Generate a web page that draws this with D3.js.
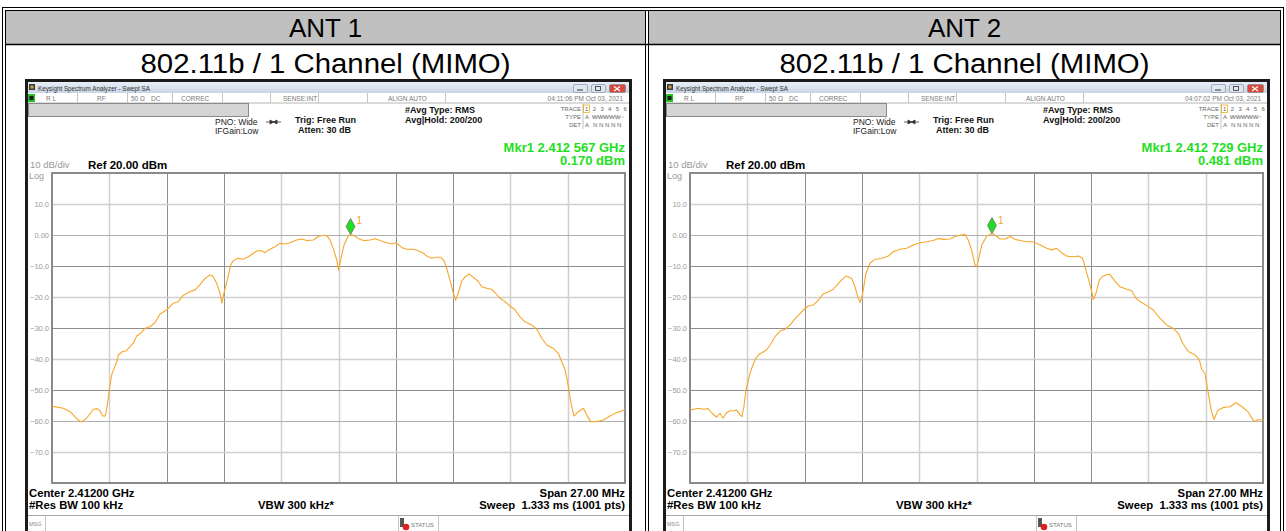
<!DOCTYPE html>
<html>
<head>
<meta charset="utf-8">
<style>
  body { margin: 0; background: #fff; }
  svg { display: block; font-family: "Liberation Sans", Arial, sans-serif; }
  .hdr { font-size: 26px; fill: #000; }
  .sub { font-size: 27px; fill: #000; }
  .st  { font-size: 6.5px; fill: #7a7a7a; }
  .inf { font-size: 8.5px; fill: #222; }
  .infb { font-size: 9px; fill: #111; font-weight: bold; }
  .tr  { font-size: 6px; fill: #666; }
  .ylab { font-size: 7.5px; fill: #9a9a9a; }
  .bot { font-size: 11.3px; font-weight: bold; fill: #000; }
  .mkr { font-size: 13px; font-weight: bold; fill: #1ee01e; }
</style>
</head>
<body>
<script src="https://d3js.org/d3.v7.min.js"></script>
<script>
// ---- data ----
const antennas   = ["ANT 1", "ANT 2"];
const modes      = ["802.11b / 1 Channel (MIMO)", "802.11b / 1 Channel (MIMO)"];
const timestamps = ["04:11:06 PM Oct 03, 2021", "04:07:02 PM Oct 03, 2021"];
const markerFreqGHz = [2.412567, 2.412729];
const markerLevel   = [0.170, 0.481];
const centerGHz = 2.412, spanMHz = 27, refLevel = 20, dbPerDiv = 10, divisions = 10;
const yTicks = [10, 0, -10, -20, -30, -40, -50, -60, -70];

// [offset from center in MHz, level in dBm]
const ant1Trace = [[-13.50,-55.2],[-12.97,-55.9],[-12.65,-57.0],[-12.26,-59.7],[-12.10,-60.3],[-11.87,-59.1],[-11.55,-56.2],[-11.37,-56.0],[-11.24,-56.7],[-11.11,-58.4],[-10.99,-58.4],[-10.89,-54.8],[-10.80,-50.0],[-10.69,-45.2],[-10.56,-42.8],[-10.42,-40.3],[-10.38,-38.7],[-10.17,-37.6],[-10.01,-37.4],[-9.82,-36.0],[-9.67,-34.9],[-9.51,-32.6],[-9.32,-31.7],[-9.12,-30.1],[-8.88,-29.6],[-8.65,-28.3],[-8.41,-25.5],[-8.10,-24.2],[-7.78,-22.0],[-7.55,-21.5],[-7.31,-19.4],[-7.00,-18.3],[-6.76,-17.7],[-6.53,-16.1],[-6.29,-14.0],[-6.06,-12.9],[-5.93,-13.2],[-5.74,-15.6],[-5.58,-18.8],[-5.50,-22.0],[-5.40,-18.8],[-5.24,-14.5],[-5.08,-9.7],[-4.96,-8.3],[-4.72,-7.5],[-4.49,-7.8],[-4.25,-7.0],[-4.01,-5.9],[-3.83,-5.1],[-3.62,-5.1],[-3.46,-5.7],[-3.23,-4.6],[-2.99,-3.8],[-2.76,-2.7],[-2.52,-2.9],[-2.29,-2.5],[-1.97,-1.6],[-1.73,-1.3],[-1.50,-1.8],[-1.19,-1.6],[-0.95,-0.5],[-0.72,-0.1],[-0.56,-0.2],[-0.40,-1.6],[-0.25,-4.3],[-0.08,-8.1],[0.00,-11.3],[0.10,-8.1],[0.26,-3.2],[0.45,-0.4],[0.57,0.17],[0.70,-0.1],[0.93,-1.1],[1.17,-1.8],[1.48,-1.6],[1.72,-1.2],[1.96,-1.8],[2.27,-2.5],[2.51,-2.9],[2.71,-2.5],[2.98,-4.0],[3.21,-4.6],[3.52,-4.6],[3.76,-5.1],[4.00,-5.9],[4.16,-6.8],[4.39,-7.5],[4.63,-7.2],[4.82,-7.2],[4.97,-8.3],[5.10,-10.8],[5.25,-14.5],[5.41,-18.8],[5.52,-21.0],[5.64,-18.8],[5.80,-15.0],[5.96,-13.5],[6.15,-12.6],[6.35,-13.6],[6.59,-15.0],[6.75,-16.7],[6.98,-17.2],[7.22,-17.5],[7.37,-18.6],[7.61,-20.4],[7.85,-21.5],[8.08,-22.9],[8.32,-24.2],[8.55,-26.4],[8.79,-28.0],[9.10,-29.0],[9.34,-30.4],[9.58,-33.3],[9.81,-35.5],[10.12,-36.6],[10.36,-38.2],[10.52,-40.9],[10.67,-43.4],[10.78,-46.8],[10.88,-51.1],[10.99,-55.4],[11.10,-58.4],[11.30,-57.0],[11.54,-55.9],[11.70,-58.1],[11.88,-60.2],[12.17,-60.2],[12.48,-59.7],[12.79,-58.4],[13.11,-57.3],[13.34,-56.8],[13.50,-56.2]];

const ant2Trace = [[-13.50,-56.5],[-13.12,-55.9],[-12.84,-56.2],[-12.65,-56.0],[-12.46,-57.5],[-12.24,-58.8],[-12.09,-57.5],[-11.94,-59.1],[-11.80,-57.5],[-11.62,-56.7],[-11.43,-56.7],[-11.30,-56.5],[-11.14,-58.1],[-11.05,-58.6],[-10.96,-55.4],[-10.86,-50.0],[-10.67,-44.6],[-10.59,-43.0],[-10.44,-40.3],[-10.28,-38.7],[-10.12,-38.0],[-9.89,-37.1],[-9.73,-35.5],[-9.49,-32.8],[-9.26,-31.0],[-9.02,-30.4],[-8.79,-29.0],[-8.47,-26.4],[-8.16,-24.2],[-7.93,-22.9],[-7.69,-22.6],[-7.45,-21.0],[-7.22,-19.0],[-6.98,-18.3],[-6.75,-17.5],[-6.51,-15.6],[-6.28,-14.0],[-6.12,-13.2],[-5.88,-14.0],[-5.73,-16.7],[-5.57,-20.4],[-5.49,-21.8],[-5.36,-18.8],[-5.21,-12.4],[-5.02,-9.1],[-4.78,-7.8],[-4.47,-7.6],[-4.16,-6.8],[-3.92,-5.4],[-3.60,-4.6],[-3.29,-4.3],[-2.98,-3.2],[-2.66,-2.5],[-2.35,-2.2],[-2.04,-1.8],[-1.80,-1.1],[-1.56,-1.4],[-1.25,-1.3],[-1.01,-0.5],[-0.70,0.1],[-0.54,0.2],[-0.39,-1.6],[-0.23,-4.8],[-0.07,-9.7],[0.01,-10.3],[0.09,-8.1],[0.25,-3.2],[0.48,-0.3],[0.73,0.48],[0.87,0.0],[1.11,-1.3],[1.34,-1.3],[1.58,-0.5],[1.81,-1.4],[2.05,-1.8],[2.37,-2.2],[2.68,-2.2],[2.99,-3.2],[3.31,-4.3],[3.54,-4.8],[3.78,-4.3],[4.01,-5.7],[4.25,-6.8],[4.56,-7.0],[4.80,-6.8],[5.00,-7.5],[5.11,-10.2],[5.27,-14.0],[5.43,-18.3],[5.50,-20.8],[5.63,-18.8],[5.79,-14.5],[5.97,-13.2],[6.26,-12.6],[6.48,-14.5],[6.76,-16.7],[7.08,-17.5],[7.31,-18.0],[7.52,-20.4],[7.78,-21.8],[8.10,-23.1],[8.33,-24.2],[8.65,-26.9],[8.96,-29.0],[9.27,-30.1],[9.51,-31.7],[9.72,-34.9],[9.98,-37.6],[10.30,-38.7],[10.50,-40.3],[10.61,-43.3],[10.76,-44.6],[10.91,-50.5],[11.06,-56.5],[11.19,-59.5],[11.38,-56.5],[11.66,-55.6],[11.94,-55.4],[12.23,-54.1],[12.51,-55.4],[12.79,-57.0],[13.08,-60.2],[13.26,-59.5],[13.45,-59.7],[13.50,-59.5]];

const traces = [ant1Trace, ant2Trace];

// ---- page ----
const W = 1286, H = 531;
const svg = d3.select("body").append("svg").attr("width", W).attr("height", H);

const defs = svg.append("defs");
const tg = defs.append("linearGradient").attr("id", "titlebar").attr("x1", 0).attr("x2", 0).attr("y1", 0).attr("y2", 1);
tg.append("stop").attr("offset", "0%").attr("stop-color", "#e9eff7");
tg.append("stop").attr("offset", "100%").attr("stop-color", "#c9d5e4");

// table: header cells, borders
const cells = [[6, 645], [649, 1280]];
cells.forEach(([a, b], i) => {
  svg.append("rect").attr("x", a).attr("y", 11).attr("width", b - a).attr("height", 33).attr("fill", "#c0c0c0");
  svg.append("text").attr("class", "hdr").attr("x", (a + b) / 2).attr("y", 37)
    .attr("text-anchor", "middle").text(antennas[i]);
  svg.append("text").attr("class", "sub").attr("x", (a + b) / 2 - 185).attr("y", 72.5)
    .attr("textLength", 370).attr("lengthAdjust", "spacingAndGlyphs").text(modes[i]);
});
const hl = (x1, y1, x2, y2, w) => svg.append("line").attr("x1", x1).attr("y1", y1).attr("x2", x2).attr("y2", y2)
  .attr("stroke", "#000").attr("stroke-width", w || 1);
hl(2, 7.5, 1284, 7.5); hl(5, 10.5, 1281, 10.5);
hl(2.5, 7, 2.5, H); hl(5.5, 10, 5.5, H);
hl(1283.5, 7, 1283.5, H); hl(1280.5, 10, 1280.5, H);
hl(645.5, 10, 645.5, H); hl(648.5, 10, 648.5, H);
hl(5, 44.5, 1281, 44.5, 1.5);

// ---- one analyzer screenshot ----
const gx0 = 52, gx1 = 625, gy0 = 173, gy1 = 483;
const vShade = ["l", "d", "d", "l", "l", "d", "d", "l", "l"];
const hShade = ["l", "m", "d", "l", "d", "l", "d", "m", "l"];
const shadeCol = {l: "#cfcfcf", m: "#b0b0b0", d: "#8e8e8e"};

function panel(i) {
  const g = svg.append("g").attr("transform", `translate(${i * 638},0)`);

  // window frame
  g.append("rect").attr("x", 26.5).attr("y", 80.5).attr("width", 604).attr("height", 470)
    .attr("fill", "#fff").attr("stroke", "#1b1b1b").attr("stroke-width", 3);
  g.append("rect").attr("x", 28).attr("y", 82).attr("width", 601).attr("height", 11).attr("fill", "url(#titlebar)");
  g.append("rect").attr("x", 29).attr("y", 84).attr("width", 6).attr("height", 6).attr("fill", "#3a3a3a");
  g.append("rect").attr("x", 30.5).attr("y", 85.5).attr("width", 3).attr("height", 3).attr("fill", "#c9a23a");
  g.append("text").attr("x", 38).attr("y", 90.5).attr("font-size", 6.3).attr("fill", "#333")
    .text("Keysight Spectrum Analyzer - Swept SA");
  [[573, "#dfe6ef"], [591, "#dfe6ef"], [609, "#d8473a"]].forEach(([bx, c], k) => {
    g.append("rect").attr("x", bx + 0.5).attr("y", 84.5).attr("width", k === 2 ? 16 : 14).attr("height", 8)
      .attr("rx", 1.5).attr("fill", c).attr("stroke", "#7b8796").attr("stroke-width", 0.6);
  });
  g.append("line").attr("x1", 577).attr("x2", 583).attr("y1", 90).attr("y2", 90).attr("stroke", "#333");
  g.append("rect").attr("x", 595.5).attr("y", 86.5).attr("width", 5).attr("height", 4).attr("fill", "none").attr("stroke", "#333").attr("stroke-width", 0.8);
  g.append("path").attr("d", "M614,86.5 L620,91 M620,86.5 L614,91").attr("stroke", "#fff").attr("stroke-width", 1.2);

  // status row
  g.append("line").attr("x1", 28).attr("x2", 629).attr("y1", 103).attr("y2", 103).attr("stroke", "#b5b5b5");
  g.append("rect").attr("x", 28).attr("y", 94).attr("width", 7).attr("height", 8).attr("fill", "#22c322");
  g.append("rect").attr("x", 29.5).attr("y", 96).attr("width", 4).attr("height", 4).attr("fill", "#1b1b1b");
  [77, 127, 172, 222, 270, 318, 367, 445].forEach(sx =>
    g.append("line").attr("x1", sx + 0.5).attr("x2", sx + 0.5).attr("y1", 93).attr("y2", 103).attr("stroke", "#c4c4c4"));
  [["R L", 46], ["RF", 97], ["50 Ω", 131], ["DC", 151], ["CORREC", 181], ["SENSE:INT", 283], ["ALIGN AUTO", 388]]
    .forEach(([t, x]) => g.append("text").attr("class", "st").attr("x", x).attr("y", 101).text(t));
  g.append("text").attr("class", "st").attr("x", 623).attr("y", 101).attr("text-anchor", "end")
    .attr("fill", "#555").text(timestamps[i]);

  // grey message bar
  g.append("rect").attr("x", 28.5).attr("y", 103.5).attr("width", 220).attr("height", 13)
    .attr("fill", "#d4d4d4").attr("stroke", "#8a8a8a");

  // settings text
  g.append("text").attr("class", "inf").attr("x", 215).attr("y", 124.5).text("PNO: Wide");
  g.append("text").attr("class", "inf").attr("x", 215).attr("y", 134).text("IFGain:Low");
  g.append("path").attr("d", "M266,122 H281 M270,120 L273.5,122 L270,124 Z M277,120 L273.5,122 L277,124 Z")
    .attr("stroke", "#333").attr("stroke-width", 0.8).attr("fill", "#333");
  g.append("text").attr("class", "infb").attr("x", 295).attr("y", 123).text("Trig: Free Run");
  g.append("text").attr("class", "infb").attr("x", 298).attr("y", 133).text("Atten: 30 dB");
  g.append("text").attr("class", "infb").attr("x", 405).attr("y", 113).text("#Avg Type: RMS");
  g.append("text").attr("class", "infb").attr("x", 405).attr("y", 123).text("Avg|Hold: 200/200");

  // trace table
  const trColors = ["#e8a400", "#00d8e8", "#ff2dff", "#22c322", "#3a8cff", "#a040ff"];
  g.append("text").attr("class", "tr").attr("x", 581).attr("y", 111).attr("text-anchor", "end").text("TRACE");
  g.append("text").attr("class", "tr").attr("x", 581).attr("y", 119).attr("text-anchor", "end").text("TYPE");
  g.append("text").attr("class", "tr").attr("x", 581).attr("y", 127).attr("text-anchor", "end").text("DET");
  g.append("line").attr("x1", 583).attr("x2", 583).attr("y1", 104).attr("y2", 129).attr("stroke", "#999").attr("stroke-width", 0.6);
  g.append("rect").attr("x", 583.5).attr("y", 105).attr("width", 6).attr("height", 7.5).attr("fill", "none")
    .attr("stroke", "#e8a400").attr("stroke-width", 0.7);
  trColors.forEach((c, k) => g.append("text").attr("class", "tr").attr("x", 585 + k * 7.7).attr("y", 111)
    .attr("fill", c).text(k + 1));
  g.append("text").attr("class", "tr").attr("x", 585).attr("y", 119).attr("fill", "#222").text("A");
  g.append("text").attr("class", "tr").attr("x", 592).attr("y", 119).attr("fill", "#999").text("WWWWW");
  g.append("line").attr("x1", 592).attr("x2", 624).attr("y1", 117).attr("y2", 117).attr("stroke", "#999").attr("stroke-width", 0.5);
  g.append("text").attr("class", "tr").attr("x", 585).attr("y", 127).attr("fill", "#222").text("A");
  g.append("text").attr("class", "tr").attr("x", 593).attr("y", 127).attr("fill", "#22c322").text("N N N N N");

  // marker readout
  const mf = markerFreqGHz[i].toFixed(6);
  g.append("text").attr("class", "mkr").attr("x", 625).attr("y", 152).attr("text-anchor", "end")
    .text(`Mkr1 ${mf.slice(0, 5)} ${mf.slice(5)} GHz`);
  g.append("text").attr("class", "mkr").attr("x", 625).attr("y", 165).attr("text-anchor", "end")
    .text(`${markerLevel[i].toFixed(3)} dBm`);

  // scale header
  g.append("text").attr("x", 30).attr("y", 168).attr("font-size", 9.5).attr("fill", "#999").text(`${dbPerDiv} dB/div`);
  g.append("text").attr("x", 29).attr("y", 179).attr("font-size", 9).attr("fill", "#999").text("Log");
  g.append("text").attr("x", 88).attr("y", 169).attr("font-size", 11.5).attr("font-weight", "bold")
    .text(`Ref ${refLevel.toFixed(2)} dBm`);

  // scales
  const x = d3.scaleLinear().domain([-spanMHz / 2, spanMHz / 2]).range([gx0, gx1]);
  const y = d3.scaleLinear().domain([refLevel - dbPerDiv * divisions, refLevel]).range([gy1, gy0]);

  // grid
  const vx = d3.range(1, divisions).map(k => -spanMHz / 2 + k * spanMHz / divisions);
  g.append("g").selectAll("line").data(vx).join("line")
    .attr("x1", d => Math.round(x(d)) + 0.5).attr("x2", d => Math.round(x(d)) + 0.5)
    .attr("y1", gy0).attr("y2", gy1)
    .attr("stroke", (d, k) => shadeCol[vShade[k]]).attr("stroke-width", (d, k) => vShade[k] === "l" ? 1.5 : 1);
  g.append("g").selectAll("line").data(yTicks).join("line")
    .attr("x1", gx0).attr("x2", gx1)
    .attr("y1", d => Math.round(y(d)) + 0.5).attr("y2", d => Math.round(y(d)) + 0.5)
    .attr("stroke", (d, k) => shadeCol[hShade[k]]).attr("stroke-width", (d, k) => hShade[k] === "l" ? 1.5 : 1);
  g.append("rect").attr("x", gx0).attr("y", gy0).attr("width", gx1 - gx0).attr("height", gy1 - gy0)
    .attr("fill", "none").attr("stroke", "#8a8a8a").attr("stroke-width", 2);

  // y labels via axis
  const yAxis = d3.axisLeft(y).tickValues(yTicks).tickSize(0).tickPadding(3)
    .tickFormat(d => d === 0 ? "0.00" : d3.format(".1f")(d));
  const ya = g.append("g").attr("transform", `translate(${gx0},0)`).call(yAxis);
  ya.select(".domain").remove();
  ya.selectAll("text").attr("class", "ylab").attr("font-family", null).attr("font-size", null).attr("fill", null);

  // trace
  const clipId = `clip${i}`;
  g.append("clipPath").attr("id", clipId).append("rect")
    .attr("x", gx0).attr("y", gy0).attr("width", gx1 - gx0).attr("height", gy1 - gy0);
  const line = d3.line().x(d => x(d[0])).y(d => y(d[1]));
  g.append("path").datum(traces[i]).attr("clip-path", `url(#${clipId})`)
    .attr("d", line).attr("fill", "none").attr("stroke", "#f7a72a").attr("stroke-width", 1.1)
    .attr("stroke-linejoin", "round");

  // marker diamond
  const mx = x((markerFreqGHz[i] - centerGHz) * 1000), my = y(markerLevel[i]);
  g.append("path").attr("d", `M${mx},${my} L${mx - 4.5},${my - 8} L${mx},${my - 16} L${mx + 4.5},${my - 8} Z`)
    .attr("fill", "#1ee01e").attr("stroke", "#707070").attr("stroke-width", 0.8);
  g.append("text").attr("x", mx + 6).attr("y", my - 10).attr("font-size", 10).attr("fill", "#f5a524").text("1");

  // bottom annotation
  g.append("text").attr("class", "bot").attr("x", 29).attr("y", 496.5).text(`Center ${centerGHz.toFixed(5)} GHz`);
  g.append("text").attr("class", "bot").attr("x", 29).attr("y", 509).text("#Res BW 100 kHz");
  g.append("text").attr("class", "bot").attr("x", 258).attr("y", 509).text("VBW 300 kHz*");
  g.append("text").attr("class", "bot").attr("x", 625).attr("y", 496.5).attr("text-anchor", "end")
    .text(`Span ${spanMHz.toFixed(2)} MHz`);
  g.append("text").attr("class", "bot").attr("x", 625).attr("y", 509).attr("text-anchor", "end")
    .attr("xml:space", "preserve").text("Sweep  1.333 ms (1001 pts)");

  // message row
  g.append("line").attr("x1", 28).attr("x2", 629).attr("y1", 515.5).attr("y2", 515.5).attr("stroke", "#a8a8a8");
  [45, 398, 438].forEach(sx => g.append("line").attr("x1", sx + 0.5).attr("x2", sx + 0.5)
    .attr("y1", 516).attr("y2", H).attr("stroke", "#c4c4c4"));
  g.append("text").attr("x", 29).attr("y", 526).attr("font-size", 5.5).attr("fill", "#888").text("MSG");
  g.append("rect").attr("x", 400).attr("y", 518).attr("width", 4).attr("height", 9).attr("fill", "#555");
  g.append("circle").attr("cx", 406).attr("cy", 527).attr("r", 3.3).attr("fill", "#e02020");
  g.append("text").attr("x", 411).attr("y", 527).attr("font-size", 6).attr("fill", "#777").text("STATUS");
}

antennas.forEach((a, i) => panel(i));
</script>
</body>
</html>
